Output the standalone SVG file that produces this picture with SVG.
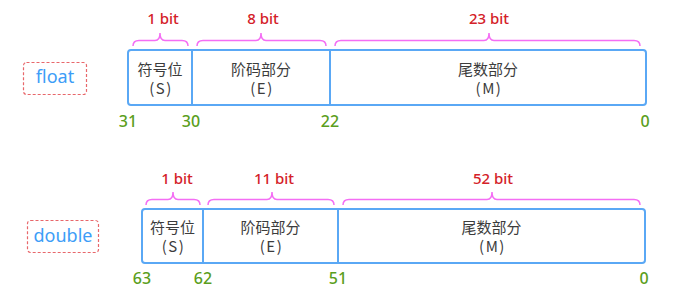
<svg xmlns="http://www.w3.org/2000/svg" width="692" height="298" viewBox="0 0 692 298">
<style>
.bg{fill:#ffffff}
.field{fill:#ffffff;stroke:#5aa8f5;stroke-width:2}
.div{stroke:#5aa8f5;stroke-width:2}
.tag{fill:#ffffff;stroke:#e8676b;stroke-width:1.2;stroke-dasharray:3 2}
.tagt{font-family:"Noto Sans","Noto Sans CJK SC",sans-serif;font-size:18px;fill:#3d9df7;text-anchor:middle}
.in{font-family:"Noto Sans CJK SC",sans-serif;font-size:15px;fill:#3c3c3c;text-anchor:middle}
.par{letter-spacing:1.5px}
.bit{font-family:"Noto Sans","Noto Sans CJK SC",sans-serif;font-size:15px;font-weight:500;fill:#d42128;text-anchor:middle}
.num{font-family:"Noto Sans","Noto Sans CJK SC",sans-serif;font-size:16px;font-weight:500;fill:#5a9e20;text-anchor:middle}
.brace{fill:none;stroke:#f46ef4;stroke-width:1.5}
</style>
<rect class="bg" x="0" y="0" width="692" height="298"/>

<g id="float-label">
<rect class="tag" x="23.5" y="62.5" width="63" height="32" rx="3"/>
<text class="tagt" x="55" y="83">float</text>
</g>

<g id="float-fields">
<rect class="field" x="128" y="50" width="518" height="55" rx="3"/>
<line class="div" x1="192" y1="50" x2="192" y2="105"/>
<line class="div" x1="330" y1="50" x2="330" y2="105"/>
</g>
<g id="float-sign">
<text class="in" x="160" y="75">符号位</text>
<text class="in par" x="161" y="94">(S)</text>
</g>
<g id="float-exp">
<text class="in" x="261" y="75">阶码部分</text>
<text class="in par" x="262" y="94">(E)</text>
</g>
<g id="float-man">
<text class="in" x="488" y="75">尾数部分</text>
<text class="in par" x="489" y="94">(M)</text>
</g>
<g id="float-bits">
<text class="bit" x="163" y="24">1 bit</text>
<text class="bit" x="263" y="24">8 bit</text>
<text class="bit" x="489" y="24">23 bit</text>
</g>
<g id="float-nums">
<text class="num" x="128" y="127">31</text>
<text class="num" x="191" y="127">30</text>
<text class="num" x="330" y="127">22</text>
<text class="num" x="645" y="127">0</text>
</g>

<g id="double-label">
<rect class="tag" x="27.5" y="220.5" width="71" height="32" rx="3"/>
<text class="tagt" x="63" y="242">double</text>
</g>

<g id="double-fields">
<rect class="field" x="142" y="209" width="503" height="54" rx="3"/>
<line class="div" x1="203" y1="209" x2="203" y2="263"/>
<line class="div" x1="338" y1="209" x2="338" y2="263"/>
</g>
<g id="double-sign">
<text class="in" x="172.5" y="233">符号位</text>
<text class="in par" x="173.5" y="252">(S)</text>
</g>
<g id="double-exp">
<text class="in" x="270.5" y="233">阶码部分</text>
<text class="in par" x="271.5" y="252">(E)</text>
</g>
<g id="double-man">
<text class="in" x="491.5" y="233">尾数部分</text>
<text class="in par" x="492.5" y="252">(M)</text>
</g>
<g id="double-bits">
<text class="bit" x="177" y="184">1 bit</text>
<text class="bit" x="274" y="184">11 bit</text>
<text class="bit" x="493" y="184">52 bit</text>
</g>
<g id="double-nums">
<text class="num" x="142" y="284">63</text>
<text class="num" x="203" y="284">62</text>
<text class="num" x="338" y="284">51</text>
<text class="num" x="644" y="284">0</text>
</g>

<g id="connectors">
<path class="brace" d="M133 46 Q133 40.5 139 40.5 H155 Q160 40.5 160 33 Q160 40.5 165 40.5 H182 Q188 40.5 188 46"/>
<path class="brace" d="M197 46 Q197 40.5 203 40.5 H256 Q261 40.5 261 33 Q261 40.5 266 40.5 H320 Q326 40.5 326 46"/>
<path class="brace" d="M335 46 Q335 40.5 341 40.5 H484 Q489 40.5 489 33 Q489 40.5 494 40.5 H634 Q640 40.5 640 46"/>
<path class="brace" d="M146 205 Q146 199.5 152 199.5 H168 Q173 199.5 173 192 Q173 199.5 178 199.5 H194 Q200 199.5 200 205"/>
<path class="brace" d="M208 205 Q208 199.5 214 199.5 H267 Q272 199.5 272 192 Q272 199.5 277 199.5 H328 Q334 199.5 334 205"/>
<path class="brace" d="M343 205 Q343 199.5 349 199.5 H487 Q492 199.5 492 192 Q492 199.5 497 199.5 H634 Q640 199.5 640 205"/>
</g>
</svg>
